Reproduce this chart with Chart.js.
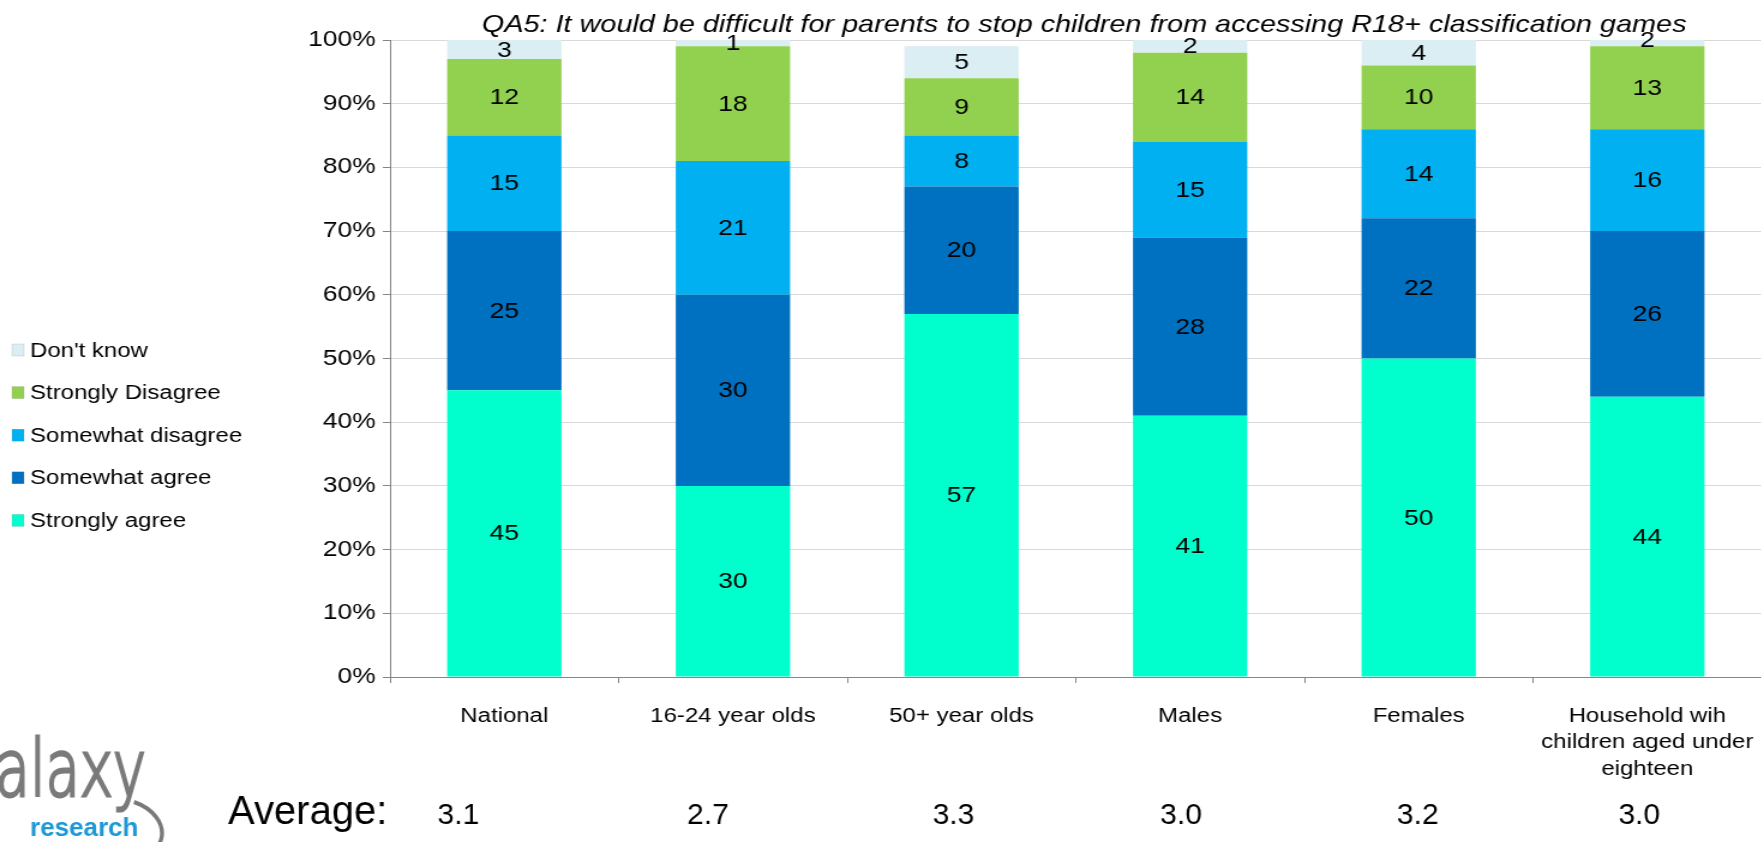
<!DOCTYPE html>
<html>
<head>
<meta charset="utf-8">
<title>QA5 - parents and R18+ games</title>
<script src="https://cdn.jsdelivr.net/npm/chart.js@4.4.1/dist/chart.umd.min.js"></script>
<style>
  html, body { margin: 0; padding: 0; background: #fff; overflow: hidden; }
  /* the chart graphic is laid out narrow and widened, like the slide it came from */
  #wrap { width: 1468px; height: 842px; transform: scaleX(1.2); transform-origin: 0 0; }
</style>
</head>
<body>
<div id="wrap"><canvas id="chart" width="1468" height="842"></canvas></div>
<script>
const categories = ['National', '16-24 year olds', '50+ year olds', 'Males', 'Females',
    ['Household wih', 'children aged under', 'eighteen']];
const seriesNames = ['Strongly agree', 'Somewhat agree', 'Somewhat disagree', 'Strongly Disagree', "Don't know"];
const seriesColors = ['#00FFCC', '#0070C0', '#00B0F0', '#92D050', '#DAEEF3'];
const stronglyAgree = [45, 30, 57, 41, 50, 44];
const somewhatAgree = [25, 30, 20, 28, 22, 26];
const somewhatDisagree = [15, 21, 8, 15, 14, 16];
const stronglyDisagree = [12, 18, 9, 14, 10, 13];
const dontKnow = [3, 1, 5, 2, 4, 2];
const averages = ['3.1', '2.7', '3.3', '3.0', '3.2', '3.0'];
const yMax = 100;
const yStep = 10;

const chartTitle = 'QA5: It would be difficult for parents to stop children from accessing R18+ classification games';

const S = 1.2; // horizontal stretch of the chart graphic
const FONT = "'Liberation Sans', Arial, sans-serif";
// the averages row is a separate text row on the slide, a little out of step with the bars
const avgNudge = [-46, -25, -8, -9, -1, -8];

const seriesValues = [stronglyAgree, somewhatAgree, somewhatDisagree, stronglyDisagree, dontKnow];

// title sits just above the plot, its descenders cross the top gridline
const plotTitle = {
    id: 'plotTitle',
    afterDraw(chart) {
        const { ctx, chartArea } = chart;
        ctx.save();
        ctx.font = `italic 24px ${FONT}`;
        ctx.fillStyle = '#000';
        ctx.textAlign = 'center';
        ctx.textBaseline = 'alphabetic';
        ctx.fillText(chartTitle, (chartArea.left + chartArea.right) / 2 + 7, 32);
        ctx.restore();
    }
};

// number in the middle of every bar segment
const segmentLabels = {
    id: 'segmentLabels',
    afterDatasetsDraw(chart) {
        const { ctx } = chart;
        ctx.save();
        ctx.font = `22px ${FONT}`;
        ctx.fillStyle = '#000';
        ctx.textAlign = 'center';
        ctx.textBaseline = 'middle';
        chart.data.datasets.forEach((ds, di) => {
            const meta = chart.getDatasetMeta(di);
            meta.data.forEach((bar, i) => {
                const { x, y, base } = bar.getProps(['x', 'y', 'base'], true);
                ctx.fillText(String(ds.data[i]), x, (y + base) / 2 + 1);
            });
        });
        ctx.restore();
    }
};

// legend on the left, top item is the top segment
const sideLegend = {
    id: 'sideLegend',
    afterDraw(chart) {
        const { ctx } = chart;
        const items = chart.data.datasets.map(ds => ({ text: ds.label, color: ds.backgroundColor })).reverse();
        ctx.save();
        ctx.font = `20px ${FONT}`;
        ctx.textBaseline = 'middle';
        ctx.textAlign = 'left';
        items.forEach((it, i) => {
            const cy = 350 + i * 42.6;
            ctx.fillStyle = it.color;
            ctx.fillRect(10, cy - 6, 10, 12);
            ctx.strokeStyle = 'rgba(120,120,120,0.35)';
            ctx.lineWidth = 0.5;
            ctx.strokeRect(10, cy - 6, 10, 12);
            ctx.fillStyle = '#000';
            ctx.fillText(it.text, 25, cy + 1);
        });
        ctx.restore();
    }
};

// averages row and logo sit on the slide itself, so they are drawn unstretched
const slideExtras = {
    id: 'slideExtras',
    afterDraw(chart) {
        const { ctx } = chart;
        const xs = chart.scales.x;
        const baseY = 824;

        ctx.save();
        ctx.fillStyle = '#000';
        ctx.textBaseline = 'alphabetic';

        ctx.save();
        ctx.translate(190, baseY);
        ctx.scale(1 / S, 1);
        ctx.font = `40px ${FONT}`;
        ctx.textAlign = 'left';
        ctx.fillText('Average:', 0, 0);
        ctx.restore();

        averages.forEach((a, i) => {
            ctx.save();
            ctx.translate(xs.getPixelForValue(i) + avgNudge[i] / S, baseY);
            ctx.scale(1 / S, 1);
            ctx.font = `30px ${FONT}`;
            ctx.textAlign = 'center';
            ctx.fillText(a, 0, 0);
            ctx.restore();
        });

        // logo, in slide pixels
        ctx.save();
        ctx.scale(1 / S, 1);
        ctx.fillStyle = '#7a7a7a';
        ctx.strokeStyle = '#7a7a7a';
        ctx.save();
        ctx.translate(0, 796);
        ctx.scale(1, 1.4);
        ctx.font = `200 56px 'DejaVu Sans', ${FONT}`;
        ctx.textAlign = 'left';
        ctx.lineWidth = 2.2;
        ctx.fillText('galaxy', -38, 0);
        ctx.strokeText('galaxy', -38, 0);
        ctx.restore();
        ctx.lineWidth = 4;
        ctx.beginPath();
        ctx.moveTo(134, 802);
        ctx.bezierCurveTo(174, 816, 172, 860, 122, 860);
        ctx.stroke();
        ctx.fillStyle = '#1b98d5';
        ctx.font = `bold 26px ${FONT}`;
        ctx.fillText('research', 30, 836);
        ctx.restore();

        ctx.restore();
    }
};

const yTickValues = [];
for (let v = 0; v <= yMax; v += yStep) yTickValues.push(v);

const chart = new Chart(document.getElementById('chart'), {
    type: 'bar',
    data: {
        labels: categories,
        datasets: seriesNames.map((name, i) => ({
            label: name,
            data: seriesValues[i],
            backgroundColor: seriesColors[i],
            borderWidth: 0,
            barPercentage: 0.5,
            categoryPercentage: 1.0,
        })),
    },
    options: {
        responsive: false,
        animation: false,
        devicePixelRatio: 1,
        layout: { padding: { left: 0, right: -4, top: 40, bottom: 0 } },
        scales: {
            x: {
                stacked: true,
                grid: { display: true, drawOnChartArea: false, tickLength: 6, tickColor: '#868686' },
                border: { color: '#868686', width: 1 },
                ticks: {
                    color: '#000',
                    font: { family: FONT, size: 20, lineHeight: 1.325 },
                    padding: 20,
                    autoSkip: false,
                    maxRotation: 0,
                    minRotation: 0,
                },
                afterFit(scale) {
                    scale.height = 165;
                    scale.paddingLeft = 0;
                    scale.paddingRight = 0;
                },
            },
            y: {
                stacked: true,
                min: 0,
                max: yMax,
                afterBuildTicks(scale) { scale.ticks = yTickValues.map(v => ({ value: v })); },
                grid: { color: '#D9D9D9', lineWidth: 1, tickLength: 6, tickColor: '#868686' },
                border: { color: '#868686', width: 1 },
                ticks: {
                    color: '#000',
                    font: { family: FONT, size: 22 },
                    padding: 6,
                    callback: v => v + '%',
                },
                afterFit(scale) {
                    scale.width = 325;
                    scale.paddingTop = 0;
                    scale.paddingBottom = 0;
                },
            },
        },
        plugins: {
            legend: { display: false },
            title: { display: false },
            tooltip: { enabled: false },
        },
    },
    plugins: [segmentLabels, sideLegend, slideExtras, plotTitle],
});
</script>
</body>
</html>
